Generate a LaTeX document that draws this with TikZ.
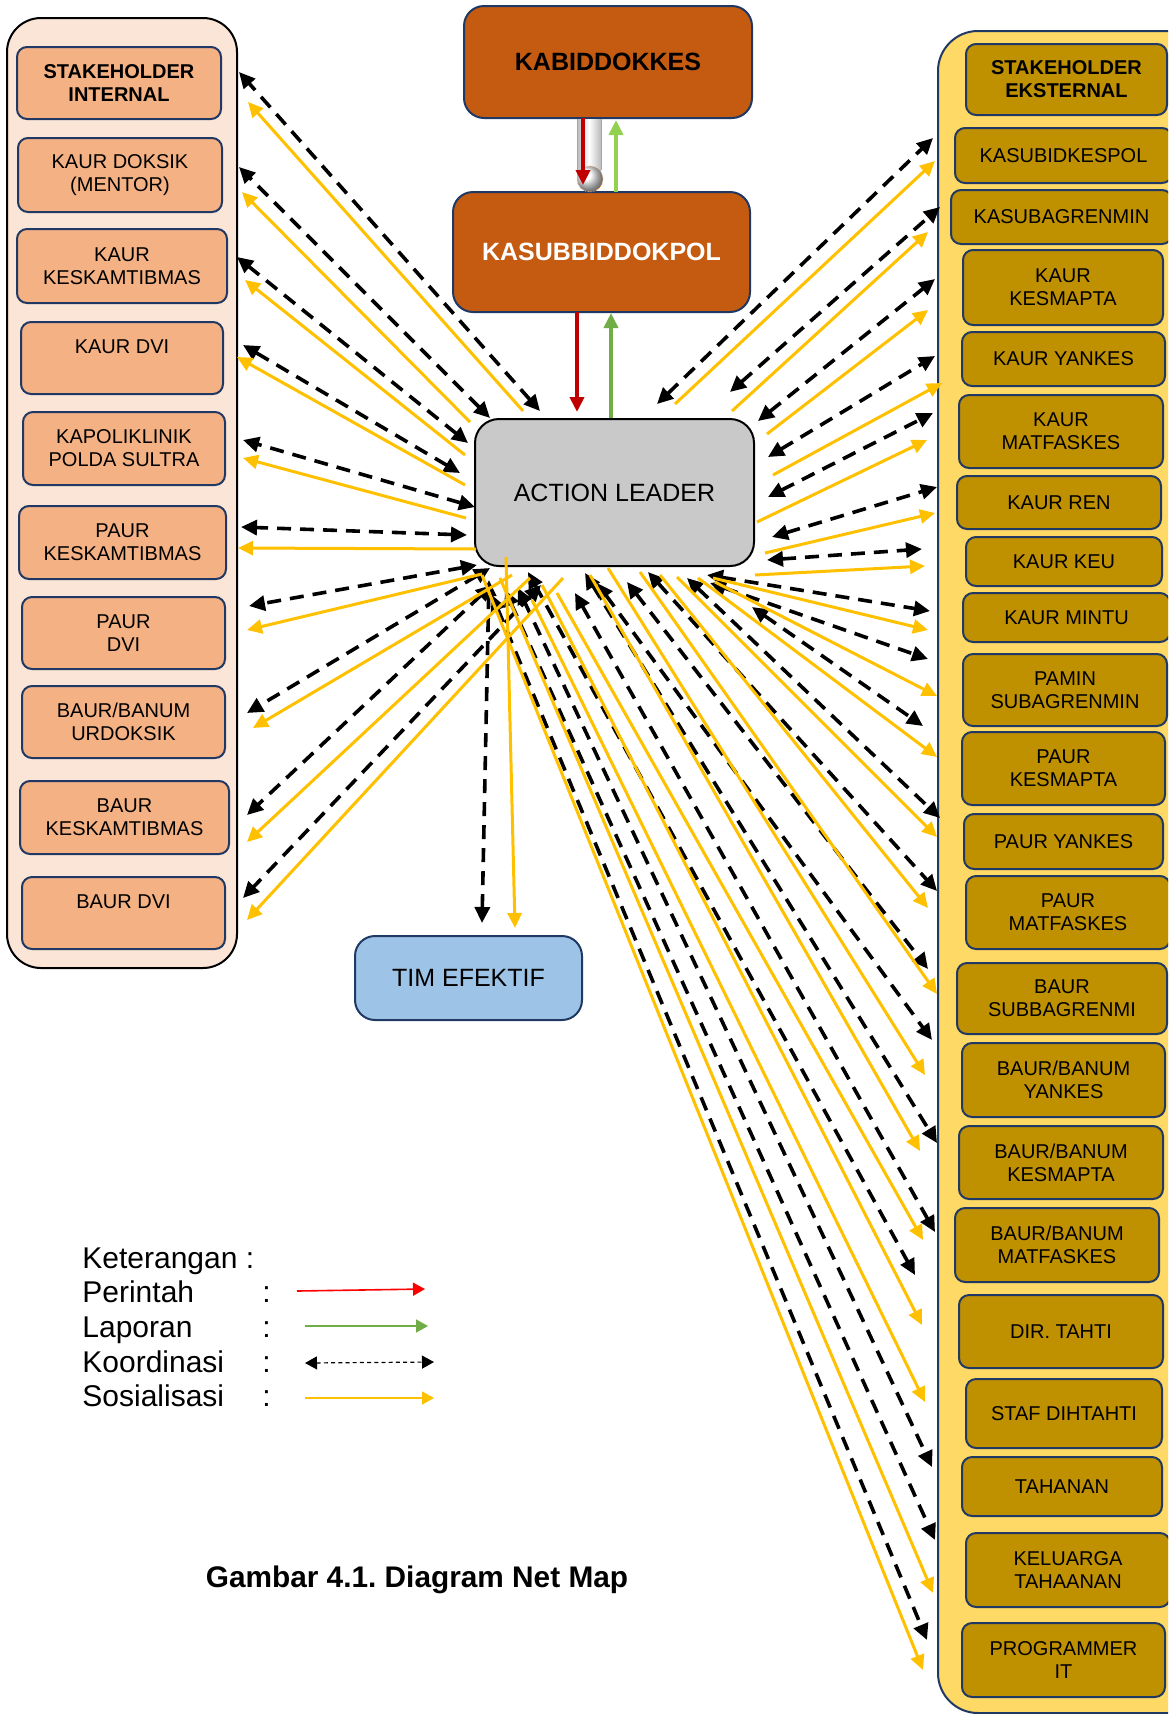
\documentclass[tikz,border=0pt]{standalone}
\usepackage{fontspec}
\setmainfont{Liberation Sans}
\usetikzlibrary{arrows.meta,fit,shadings}
\definecolor{peach}{HTML}{FBE5D6}
\definecolor{lboxc}{HTML}{F4B183}
\definecolor{rcontc}{HTML}{FFD966}
\definecolor{rboxc}{HTML}{BF9000}
\definecolor{navy}{HTML}{1F3864}
\definecolor{rust}{HTML}{C55A11}
\definecolor{algray}{HTML}{C9C9C9}
\definecolor{timblue}{HTML}{9DC3E6}
\definecolor{sosyel}{HTML}{FFC000}
\definecolor{perred}{HTML}{C00000}
\definecolor{lapgreen}{HTML}{70AD47}
\definecolor{lapgreenb}{HTML}{92D050}
\frenchspacing
\begin{document}
\begin{tikzpicture}[x=0.5pt,y=-0.5pt,
  smallbox/.style={rounded corners=5pt, draw=navy, line width=1pt, inner sep=0pt},
  lbox/.style={smallbox, fill=lboxc},
  rbox/.style={smallbox, fill=rboxc},
  bt/.style={inner sep=0pt, align=center, font=\fontsize{10}{11.5}\selectfont},
  btb/.style={inner sep=0pt, align=center, font=\fontsize{10}{11.5}\selectfont\bfseries},
  bigt/.style={inner sep=0pt, align=center, font=\fontsize{12.5}{15}\selectfont},
  bigtb/.style={inner sep=0pt, align=center, font=\fontsize{12.5}{15}\selectfont\bfseries},
  bigbox/.style={rounded corners=10pt, draw=navy, line width=1pt, inner sep=0pt},
  koor/.style={line width=1.8pt, dash pattern=on 7pt off 4.5pt, <->, >={Triangle[length=8pt,width=7.5pt]}},
  sos/.style={draw=sosyel, line width=1.5pt, ->, >={Triangle[length=7.5pt,width=7pt]}},
  cmd/.style={line width=2pt, ->, >={Triangle[length=7.5pt,width=7pt]}},
  legtxt/.style={anchor=base west, inner sep=0pt, font=\fontsize{15}{18}\selectfont},
]
\useasboundingbox (0,0) rectangle (1168,1714);
\clip (0,0) rectangle (1168,1714);

% containers
\draw[fill=peach, draw=black, line width=1pt, rounded corners=17pt] (7,18) rectangle (237,968);
\node[fit={(7,18)(237,968)}, inner sep=0pt] (lcont) {};
\draw[fill=rcontc, draw=navy, line width=1pt, rounded corners=20pt] (938,31) rectangle (1240,1713);
\node[fit={(938,31)(1168,1713)}, inner sep=0pt] (rcont) {};

% left boxes
\node[lbox, fit={(17,47)(221,119)}] (l1) {};   \node[btb] (l1t) at (l1.center) {STAKEHOLDER\\INTERNAL};
\node[lbox, fit={(18,138)(222,212)}] (l2) {};  \node[bt] (l2t) at (l2.center) {KAUR DOKSIK\\(MENTOR)};
\node[lbox, fit={(17,229)(227,303)}] (l3) {};  \node[bt] (l3t) at (l3.center) {KAUR\\KESKAMTIBMAS};
\node[lbox, fit={(21,322)(223,394)}] (l4) {};  \node[bt] (l4t) at ([yshift=5.75pt]l4.center) {KAUR DVI};
\node[lbox, fit={(23,412)(225,485)}] (l5) {};  \node[bt] (l5t) at (l5.center) {KAPOLIKLINIK\\POLDA SULTRA};
\node[lbox, fit={(19,506)(226,579)}] (l6) {};  \node[bt] (l6t) at (l6.center) {PAUR\\KESKAMTIBMAS};
\node[lbox, fit={(22,597)(225,669)}] (l7) {};  \node[bt] (l7t) at (l7.center) {PAUR\\DVI};
\node[lbox, fit={(22,686)(225,758)}] (l8) {};  \node[bt] (l8t) at (l8.center) {BAUR/BANUM\\URDOKSIK};
\node[lbox, fit={(20,781)(229,854)}] (l9) {};  \node[bt] (l9t) at (l9.center) {BAUR\\KESKAMTIBMAS};
\node[lbox, fit={(22,877)(225,949)}] (l10) {}; \node[bt] (l10t) at ([yshift=5.75pt]l10.center) {BAUR DVI};

% right boxes
\node[rbox, fit={(966,44)(1167,115)}] (r0) {};    \node[btb] (r0t) at (r0.center) {STAKEHOLDER\\EKSTERNAL};
\node[rbox, fit={(955,128)(1172,183)}] (r1) {};   \node[bt] (r1t) at (r1.center) {KASUBIDKESPOL};
\node[rbox, fit={(951,190)(1172,244)}] (r2) {};   \node[bt] (r2t) at (r2.center) {KASUBAGRENMIN};
\node[rbox, fit={(963,250)(1163,325)}] (r3) {};   \node[bt] (r3t) at (r3.center) {KAUR\\KESMAPTA};
\node[rbox, fit={(962,332)(1165,386)}] (r4) {};   \node[bt] (r4t) at (r4.center) {KAUR YANKES};
\node[rbox, fit={(959,395)(1163,468)}] (r5) {};   \node[bt] (r5t) at (r5.center) {KAUR\\MATFASKES};
\node[rbox, fit={(957,476)(1161,529)}] (r6) {};   \node[bt] (r6t) at (r6.center) {KAUR REN};
\node[rbox, fit={(966,537)(1162,586)}] (r7) {};   \node[bt] (r7t) at (r7.center) {KAUR KEU};
\node[rbox, fit={(963,593)(1170,642)}] (r8) {};   \node[bt] (r8t) at (r8.center) {KAUR MINTU};
\node[rbox, fit={(963,654)(1167,726)}] (r9) {};   \node[bt] (r9t) at (r9.center) {PAMIN\\SUBAGRENMIN};
\node[rbox, fit={(962,732)(1165,805)}] (r10) {};  \node[bt] (r10t) at (r10.center) {PAUR\\KESMAPTA};
\node[rbox, fit={(964,814)(1163,869)}] (r11) {};  \node[bt] (r11t) at (r11.center) {PAUR YANKES};
\node[rbox, fit={(966,876)(1170,949)}] (r12) {};  \node[bt] (r12t) at (r12.center) {PAUR\\MATFASKES};
\node[rbox, fit={(957,963)(1167,1034)}] (r13) {}; \node[bt] (r13t) at (r13.center) {BAUR\\SUBBAGRENMI};
\node[rbox, fit={(962,1043)(1165,1117)}] (r14) {};\node[bt] (r14t) at (r14.center) {BAUR/BANUM\\YANKES};
\node[rbox, fit={(959,1126)(1163,1199)}] (r15) {};\node[bt] (r15t) at (r15.center) {BAUR/BANUM\\KESMAPTA};
\node[rbox, fit={(955,1208)(1159,1282)}] (r16) {};\node[bt] (r16t) at (r16.center) {BAUR/BANUM\\MATFASKES};
\node[rbox, fit={(959,1295)(1163,1368)}] (r17) {};\node[bt] (r17t) at (r17.center) {DIR. TAHTI};
\node[rbox, fit={(966,1379)(1162,1448)}] (r18) {};\node[bt] (r18t) at (r18.center) {STAF DIHTAHTI};
\node[rbox, fit={(962,1457)(1162,1516)}] (r19) {};\node[bt] (r19t) at (r19.center) {TAHANAN};
\node[rbox, fit={(966,1533)(1170,1607)}] (r20) {};\node[bt] (r20t) at (r20.center) {KELUARGA\\TAHAANAN};
\node[rbox, fit={(962,1623)(1165,1697)}] (r21) {};\node[bt] (r21t) at (r21.center) {PROGRAMMER\\IT};

% central boxes
\node[bigbox, fill=rust, fit={(464,6)(752,118)}] (kab) {};
\node[bigtb] (kabt) at (kab.center) {KABIDDOKKES};
\node[bigbox, fill=rust, fit={(453,192)(750,312)}] (kas) {};
\node[bigtb, text=white] (kast) at (kas.center) {KASUBBIDDOKPOL};
\node[bigbox, fill=algray, draw=black, rounded corners=12pt, fit={(475,419)(754,566)}] (al) {};
\node[bigt] (alt) at (al.center) {ACTION LEADER};
\node[bigbox, fill=timblue, fit={(355,936)(582,1020)}] (tim) {};
\node[bigt] (timt) at (tim.center) {TIM EFEKTIF};

% gray tube between KABIDDOKKES and KASUBBIDDOKPOL
\shade[left color=gray!55, right color=gray!55, middle color=white] (577,119) rectangle (601,176);
\shade[ball color=white] (590,179) circle (6.5pt);
\draw[orange!70, densely dotted, line width=0.4pt] (590,179) circle (6.5pt);
\draw[gray!70, line width=0.4pt] (577,119) -- (577,170) (601,119) -- (601,170);

% command / report arrows
\coordinate (p1a) at (583,118); \coordinate (p1b) at (583,185);
\coordinate (g1a) at (616,192); \coordinate (g1b) at (616,120);
\coordinate (p2a) at (577,312); \coordinate (p2b) at (577,412);
\coordinate (g2a) at (611,418); \coordinate (g2b) at (611,313);
\draw[cmd, perred] (p1a) -- (p1b);
\draw[cmd, lapgreenb] (g1a) -- (g1b);
\draw[cmd, perred] (p2a) -- (p2b);
\draw[cmd, lapgreen] (g2a) -- (g2b);

% koordinasi (black dashed, both heads)
\foreach \n/\xa/\ya/\xb/\yb in {
  L1/540/411/239/72, L2/490/418/239/167, L3/468/443/237/257, L4/460/473/243/345,
  L5/475/507/243/440, L6/467/535/241/527, L7/477/565/249/606, L8/490/568/247/713,
  L9/492/585/247/815, L10/541/585/243/898,
  T/489/580/482/923,
  R1/657/404/933/138, R2/730/392/940/207, R3/758/421/935/279, R4/768/457/935/356,
  R5/768/497/933/413, R6/772/537/937/487, R7/767/560/922/549,
  R8/707/575/930/611, R9/710/583/928/659, R10/752/607/923/726, R11/687/578/940/818,
  R12/648/572/937/891, R13/627/582/928/969, R14/597/583/932/1040, R15/585/573/937/1143,
  R16/575/593/935/1232, R17/528/572/915/1275, R18/518/588/932/1467, R19/505/590/935/1540,
  R20/492/595/927/1640}{
  \coordinate (k\n a) at (\xa,\ya);
  \coordinate (k\n b) at (\xb,\yb);
  \draw[koor] (k\n a) -- (k\n b);
}

% sosialisasi (yellow)
\foreach \n/\xa/\ya/\xb/\yb in {
  L1/523/411/248/102, L2/470/422/242/192, L3/465/455/245/280, L4/465/485/237/357,
  L5/466/518/243/458, L6/476/549/238/548, L7/482/574/247/630, L8/512/575/253/728,
  L9/530/578/247/842, L10/563/578/247/920,
  T/506/557/515/928,
  R1/675/404/935/161, R2/732/411/928/232, R3/767/434/928/310, R4/773/475/942/383,
  R5/757/522/927/440, R6/765/553/935/513, R7/755/575/925/566,
  R8/713/578/928/630, R9/715/582/937/696, R10/698/578/937/757, R11/677/577/937/837,
  R12/660/575/928/908, R13/640/572/937/994, R14/608/568/925/1075, R15/590/575/920/1151,
  R16/557/593/923/1240, R17/542/585/922/1325, R18/532/600/925/1402, R19/500/578/933/1593,
  R20/482/575/923/1670}{
  \coordinate (s\n a) at (\xa,\ya);
  \coordinate (s\n b) at (\xb,\yb);
  \draw[sos] (s\n a) -- (s\n b);
}

% legend
\node[legtxt] (kt) at (82,1268) {Keterangan :};
\node[legtxt] (lp) at (82,1302) {Perintah};
\node[legtxt] (ll) at (82,1337) {Laporan};
\node[legtxt] (lk) at (82,1372) {Koordinasi};
\node[legtxt] (ls) at (82,1406) {Sosialisasi};
\node[legtxt] (cp) at (262,1302) {:};
\node[legtxt] (cl) at (262,1337) {:};
\node[legtxt] (ck) at (262,1372) {:};
\node[legtxt] (cs) at (262,1406) {:};
\coordinate (lg1a) at (297,1291); \coordinate (lg1b) at (425,1289);
\coordinate (lg2a) at (305,1326); \coordinate (lg2b) at (428,1326);
\coordinate (lg3a) at (305,1363); \coordinate (lg3b) at (434,1362);
\coordinate (lg4a) at (305,1398); \coordinate (lg4b) at (434,1398);
\draw[red, line width=0.8pt, ->, >={Triangle[length=6pt,width=6.5pt]}] (lg1a) -- (lg1b);
\draw[lapgreen, line width=0.8pt, ->, >={Triangle[length=6pt,width=6.5pt]}] (lg2a) -- (lg2b);
\draw[black, line width=0.6pt, dash pattern=on 2pt off 1.6pt, <->, >={Triangle[length=6pt,width=6.5pt]}] (lg3a) -- (lg3b);
\draw[sosyel, line width=0.8pt, ->, >={Triangle[length=6pt,width=6.5pt]}] (lg4a) -- (lg4b);

% caption
\node[anchor=base, inner sep=0pt, font=\fontsize{14.9}{18}\selectfont\bfseries] (cap) at (417,1587) {Gambar 4.1. Diagram Net Map};
\end{tikzpicture}
\end{document}
